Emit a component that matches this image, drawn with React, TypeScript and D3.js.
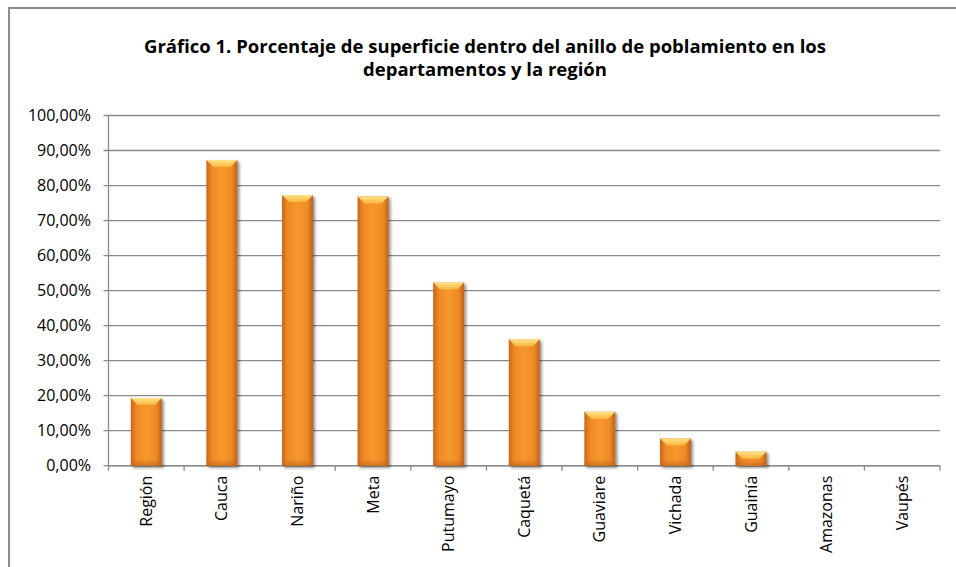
import React from "react";
import * as d3 from "d3";

const categories = ["Región", "Cauca", "Nariño", "Meta", "Putumayo", "Caquetá", "Guaviare", "Vichada", "Guainía", "Amazonas", "Vaupés"];
const values = [19.3, 87.3, 77.3, 76.9, 52.3, 36.1, 15.4, 7.8, 4.0, 0, 0];
const yTicks = [0, 10, 20, 30, 40, 50, 60, 70, 80, 90, 100];
const titleLines = [
  "Gráfico 1. Porcentaje de superficie dentro del anillo de poblamiento en los",
  "departamentos y la región",
];

const W = 956;
const H = 567;
const left = 108.5;
const right = 940;
const top = 115.5;
const bottom = 465.7;

export default function App() {
  const x = d3.scaleBand<string>().domain(categories).range([left, right]).paddingInner(0.59).paddingOuter(0.295);
  const y = d3.scaleLinear().domain([0, 100]).range([bottom, top]);
  const bw = x.bandwidth();
  const fmt = (v: number) => v.toFixed(2).replace(".", ",") + "%";
  const font = "'Open Sans', sans-serif";
  const step = (right - left) / categories.length;

  return (
    <svg width={W} height={H} style={{ position: "absolute", left: 0, top: 0, display: "block" }}>
      <defs>
        <linearGradient id="barg" x1="0" x2="1" y1="0" y2="0">
          <stop offset="0" stopColor="#c9661b" />
          <stop offset="0.18" stopColor="#ee8a25" />
          <stop offset="0.5" stopColor="#f7982d" />
          <stop offset="0.82" stopColor="#ee8a25" />
          <stop offset="1" stopColor="#c0601a" />
        </linearGradient>
        <linearGradient id="bevel" x1="0" x2="0" y1="0" y2="1">
          <stop offset="0" stopColor="#ffe48a" />
          <stop offset="1" stopColor="#fbb53c" />
        </linearGradient>
        <linearGradient id="bottomg" x1="0" x2="0" y1="0" y2="1">
          <stop offset="0" stopColor="#e07e22" stopOpacity="0" />
          <stop offset="1" stopColor="#b85a18" />
        </linearGradient>
        <filter id="sh" x="-30%" y="-10%" width="160%" height="130%">
          <feGaussianBlur in="SourceAlpha" stdDeviation="1.6" />
          <feOffset dx="1.5" dy="1.5" result="b" />
          <feComponentTransfer>
            <feFuncA type="linear" slope="0.45" />
          </feComponentTransfer>
          <feMerge>
            <feMergeNode />
            <feMergeNode in="SourceGraphic" />
          </feMerge>
        </filter>
      </defs>
      <rect x={0} y={0} width={W} height={H} fill="#fff" />
      <line x1={9} x2={9} y1={8} y2={H} stroke="#8c8c8c" strokeWidth={2} />
      <line x1={8} x2={W} y1={8} y2={8} stroke="#8c8c8c" strokeWidth={2} />

      {titleLines.map((t, i) => (
        <text key={i} x={485} y={53 + i * 23} textAnchor="middle" fontFamily={font} fontWeight="bold" fontSize={18.5} fill="#000">
          {t}
        </text>
      ))}

      {yTicks.map((t) => (
        <g key={t}>
          <line x1={left - 5} x2={right} y1={y(t)} y2={y(t)} stroke="#8a8a8a" strokeWidth={1.3} />
          <text x={91} y={y(t) + 5.5} textAnchor="end" fontFamily={font} fontSize={16} fill="#000">
            {fmt(t)}
          </text>
        </g>
      ))}
      <line x1={left} x2={left} y1={top} y2={bottom} stroke="#8a8a8a" strokeWidth={1.3} />
      <line x1={left} x2={right} y1={bottom} y2={bottom} stroke="#8a8a8a" strokeWidth={1.5} />
      {d3.range(categories.length + 1).map((i) => (
        <line key={i} x1={left + i * step} x2={left + i * step} y1={bottom} y2={bottom + 5} stroke="#8a8a8a" strokeWidth={1.3} />
      ))}

      {categories.map((c, i) => {
        const v = values[i];
        if (v <= 0) return null;
        const bx = x(c)!;
        const by = y(v);
        const h = bottom - by;
        const bev = Math.min(7, h / 2);
        return (
          <g key={c} filter="url(#sh)">
            <rect x={bx} y={by} width={bw} height={h} fill="url(#barg)" />
            <rect x={bx} y={Math.max(by, bottom - 8)} width={bw} height={Math.min(8, h)} fill="url(#bottomg)" opacity={0.6} />
            <polygon
              points={`${bx},${by} ${bx + bw},${by} ${bx + bw - 7},${by + bev} ${bx + 7},${by + bev}`}
              fill="url(#bevel)"
            />
          </g>
        );
      })}

      {categories.map((c) => {
        const cx = x(c)! + bw / 2;
        return (
          <text
            key={c}
            transform={`translate(${cx + 5.5},${bottom + 10}) rotate(-90)`}
            textAnchor="end"
            fontFamily={font}
            fontSize={16}
            fill="#000"
          >
            {c}
          </text>
        );
      })}
    </svg>
  );
}
